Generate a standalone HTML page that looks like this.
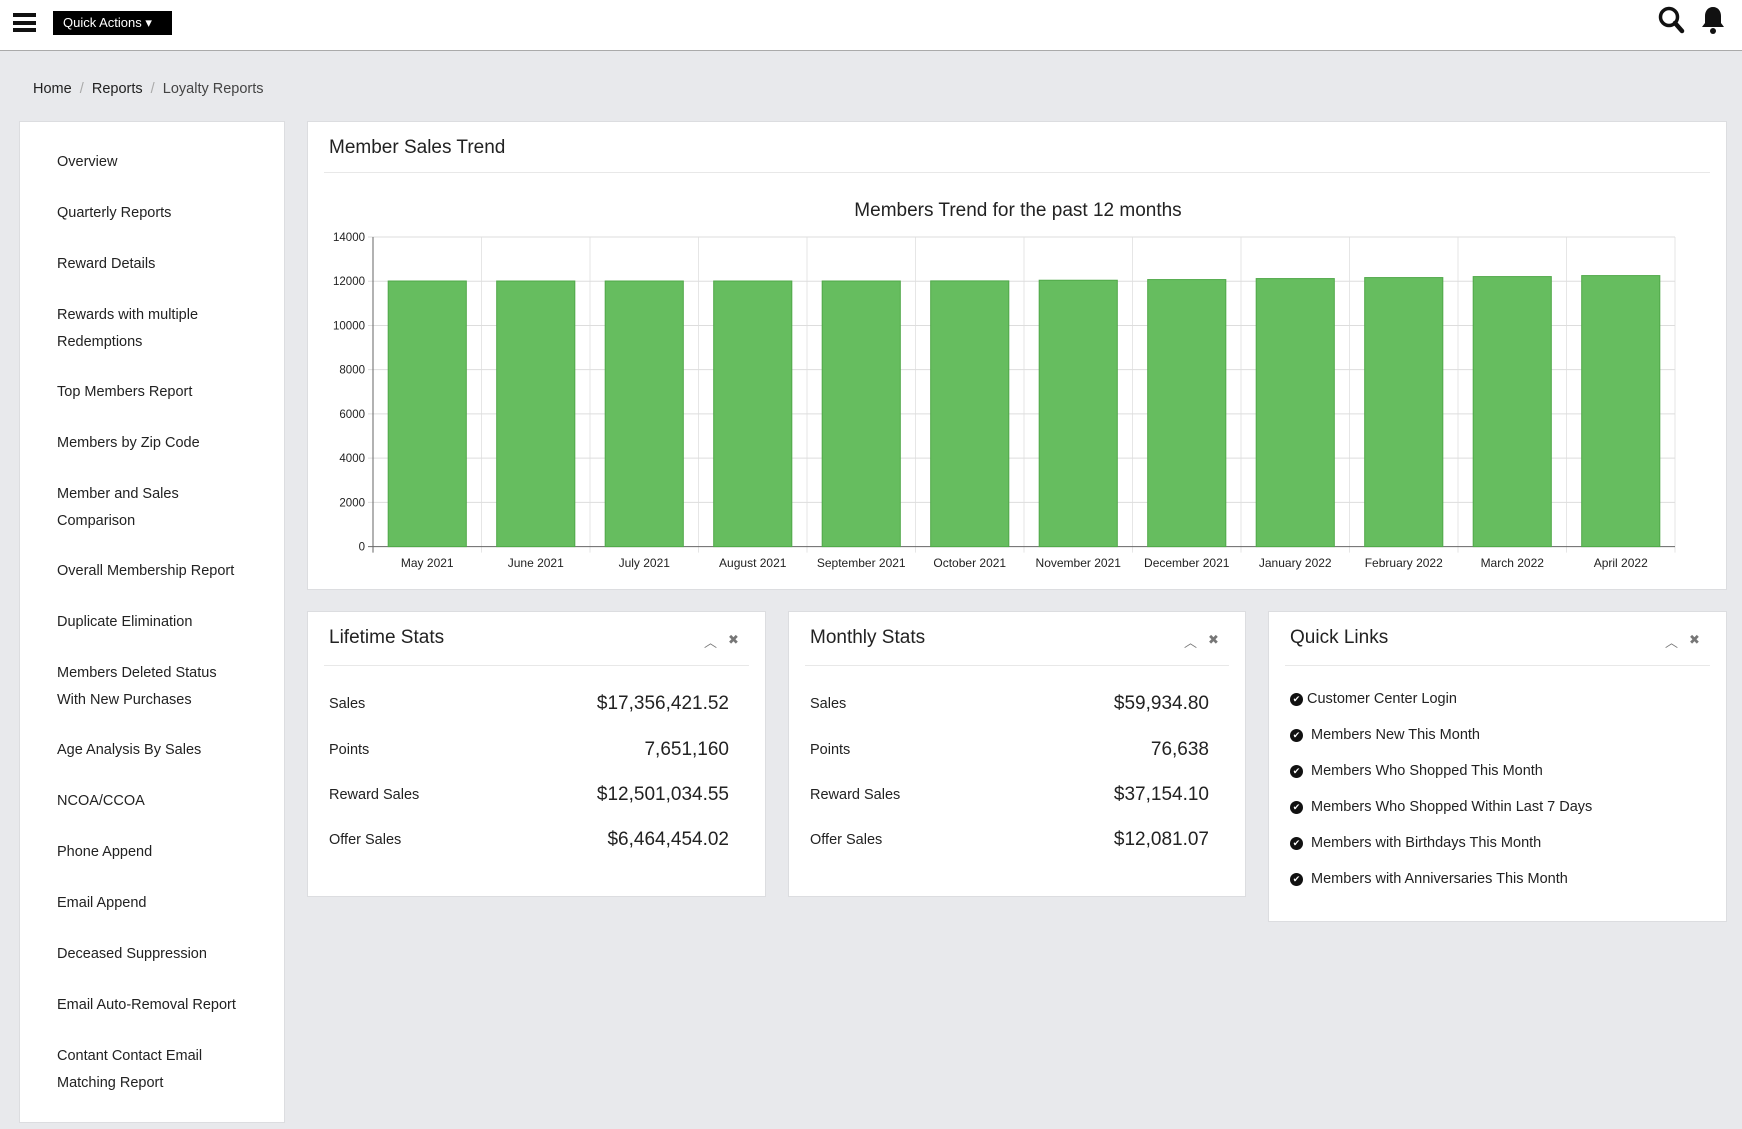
<!DOCTYPE html>
<html><head><meta charset="utf-8"><style>
*{box-sizing:border-box;margin:0;padding:0}
body{width:1742px;height:1129px;background:#e8e9ec;font-family:"Liberation Sans",sans-serif;color:#222;position:relative;overflow:hidden}
.abs{position:absolute}
.panel{position:absolute;background:#fff;border:1px solid #dcdde0}
.side a{position:absolute;left:37px;font-size:14.5px;color:#222;text-decoration:none;line-height:26.5px}
.ptitle{position:absolute;left:21px;font-size:19px;color:#222}
.sep{position:absolute;left:16px;right:16px;height:1px;background:#e8e8e8}
.row{position:absolute;left:21px;right:36px;height:24px}
.row .l{position:absolute;left:0;top:3px;font-size:14.5px}
.row .v{position:absolute;right:0;top:0;font-size:19px}
.ql{position:absolute;left:21px;font-size:14.5px}
.ql span.ic{display:inline-block;width:13px;height:13px;border-radius:50%;background:#111;color:#fff;font-size:9px;line-height:13px;text-align:center;margin-right:4px;vertical-align:1px}
.ctl{position:absolute;top:20px;font-size:13px;color:#777}
</style></head><body>
<div class="abs" style="left:0;top:0;width:1742px;height:51px;background:#fff;border-bottom:1px solid #aaa"></div>
<div class="abs" style="left:13px;top:13px;width:23px;height:19px">
<div style="height:4px;background:#111;margin-bottom:3.5px"></div><div style="height:4px;background:#111;margin-bottom:3.5px"></div><div style="height:4px;background:#111"></div></div>
<div class="abs" style="left:53px;top:11px;width:119px;height:24px;background:#000;color:#fff;font-size:13px;line-height:24px;padding-left:10px">Quick Actions ▾</div>
<svg class="abs" style="left:1657px;top:5px" width="28" height="30"><circle cx="12" cy="12" r="8.5" fill="none" stroke="#111" stroke-width="3.5"/><line x1="18" y1="18" x2="25" y2="26" stroke="#111" stroke-width="4.5" stroke-linecap="round"/></svg>
<svg class="abs" style="left:1699px;top:4px" width="28" height="32"><path d="M14 3c-5 0-8 4-8 9v7l-3 4h22l-3-4v-7c0-5-3-9-8-9z" fill="#111"/><circle cx="14" cy="27" r="3" fill="#111"/></svg>
<div class="abs" style="left:33px;top:81px;font-size:14.5px"><span>Home</span> <span style="color:#aaa">&nbsp;/&nbsp;</span> <span>Reports</span> <span style="color:#aaa">&nbsp;/&nbsp;</span> <span style="color:#444">Loyalty Reports</span></div>

<div class="panel side" style="left:19px;top:121px;width:266px;height:1002px">
<a style="top:27px">Overview</a>
<a style="top:78px">Quarterly Reports</a>
<a style="top:129px">Reward Details</a>
<a style="top:180px">Rewards with multiple<br>Redemptions</a>
<a style="top:257px">Top Members Report</a>
<a style="top:308px">Members by Zip Code</a>
<a style="top:359px">Member and Sales<br>Comparison</a>
<a style="top:436px">Overall Membership Report</a>
<a style="top:487px">Duplicate Elimination</a>
<a style="top:538px">Members Deleted Status<br>With New Purchases</a>
<a style="top:615px">Age Analysis By Sales</a>
<a style="top:666px">NCOA/CCOA</a>
<a style="top:717px">Phone Append</a>
<a style="top:768px">Email Append</a>
<a style="top:819px">Deceased Suppression</a>
<a style="top:870px">Email Auto-Removal Report</a>
<a style="top:921px">Contant Contact Email<br>Matching Report</a>
</div>

<div class="panel" style="left:307px;top:121px;width:1420px;height:469px">
<div class="ptitle" style="top:15px">Member Sales Trend</div>
<div class="sep" style="top:50px"></div>
<svg id="chart" class="abs" style="left:0;top:0" width="1420" height="469"></svg>
</div>

<div class="panel" style="left:307px;top:611px;width:459px;height:286px">
<div class="ptitle" style="top:15px">Lifetime Stats</div>
<div class="ctl" style="left:396px">︿</div><div class="ctl" style="left:420px">✖</div>
<div class="sep" style="top:53px"></div>
<div class="row" style="top:81px"><span class="l">Sales</span><span class="v">$17,356,421.52</span></div>
<div class="row" style="top:127px"><span class="l">Points</span><span class="v">7,651,160</span></div>
<div class="row" style="top:172px"><span class="l">Reward Sales</span><span class="v">$12,501,034.55</span></div>
<div class="row" style="top:217px"><span class="l">Offer Sales</span><span class="v">$6,464,454.02</span></div>
</div>

<div class="panel" style="left:788px;top:611px;width:458px;height:286px">
<div class="ptitle" style="top:15px">Monthly Stats</div>
<div class="ctl" style="left:395px">︿</div><div class="ctl" style="left:419px">✖</div>
<div class="sep" style="top:53px"></div>
<div class="row" style="top:81px"><span class="l">Sales</span><span class="v">$59,934.80</span></div>
<div class="row" style="top:127px"><span class="l">Points</span><span class="v">76,638</span></div>
<div class="row" style="top:172px"><span class="l">Reward Sales</span><span class="v">$37,154.10</span></div>
<div class="row" style="top:217px"><span class="l">Offer Sales</span><span class="v">$12,081.07</span></div>
</div>

<div class="panel" style="left:1268px;top:611px;width:459px;height:311px">
<div class="ptitle" style="top:15px">Quick Links</div>
<div class="ctl" style="left:396px">︿</div><div class="ctl" style="left:420px">✖</div>
<div class="sep" style="top:53px"></div>
<div class="ql" style="top:79px"><span class="ic">✔</span>Customer Center Login</div>
<div class="ql" style="top:115px"><span class="ic">✔</span> Members New This Month</div>
<div class="ql" style="top:151px"><span class="ic">✔</span> Members Who Shopped This Month</div>
<div class="ql" style="top:187px"><span class="ic">✔</span> Members Who Shopped Within Last 7 Days</div>
<div class="ql" style="top:223px"><span class="ic">✔</span> Members with Birthdays This Month</div>
<div class="ql" style="top:259px"><span class="ic">✔</span> Members with Anniversaries This Month</div>
</div>

<script>
const categories=["May 2021","June 2021","July 2021","August 2021","September 2021","October 2021","November 2021","December 2021","January 2022","February 2022","March 2022","April 2022"];
const memberValues=[12010,12010,12010,12010,12010,12015,12045,12075,12120,12165,12210,12255];
const yTicks=[0,2000,4000,6000,8000,10000,12000,14000];
const svg=document.getElementById('chart');
const NS='http://www.w3.org/2000/svg';
const L=65,R=1367,T=115,B=424.6,YMAX=14000;
const yS=v=>B-(v/YMAX)*(B-T);
const bw=(R-L)/categories.length;
const xS=i=>L+i*bw;
function mk(t,a,txt){const e=document.createElementNS(NS,t);for(const k in a)e.setAttribute(k,a[k]);if(txt!==undefined)e.textContent=txt;svg.appendChild(e);return e;}
let t=mk('text',{x:(L+R)/2-6,y:94,'text-anchor':'middle','font-size':19,fill:'#222'},'Members Trend for the past 12 months');


for(let i=0;i<=categories.length;i++){const g=mk('line',{x1:xS(i),x2:xS(i),y1:T,y2:B+6,stroke:'#e6e6e6'});}
yTicks.forEach(v=>{
 const g=mk('line',{x1:L-5,x2:R,y1:yS(v),y2:yS(v),stroke:v===0?'#666':'#ddd'});
 
 
 const l=mk('text',{x:L-8,y:yS(v)+4,'text-anchor':'end','font-size':11.5,fill:'#222'},String(v));
 
 
});
mk('line',{x1:L,x2:L,y1:T,y2:B+6,stroke:'#666'});
categories.forEach((c,i)=>{
 const w=bw*0.72,x=xS(i)+(bw-w)/2,y=yS(memberValues[i]);
 const r=mk('rect',{x:x,y:y,width:w,height:B-y,fill:'#66bd5f',stroke:'#4fa848','stroke-width':1});
 
 
 const l=mk('text',{x:xS(i)+bw/2,y:445,'text-anchor':'middle','font-size':12,fill:'#222'},c);
 
 
});
</script>
</body></html>
